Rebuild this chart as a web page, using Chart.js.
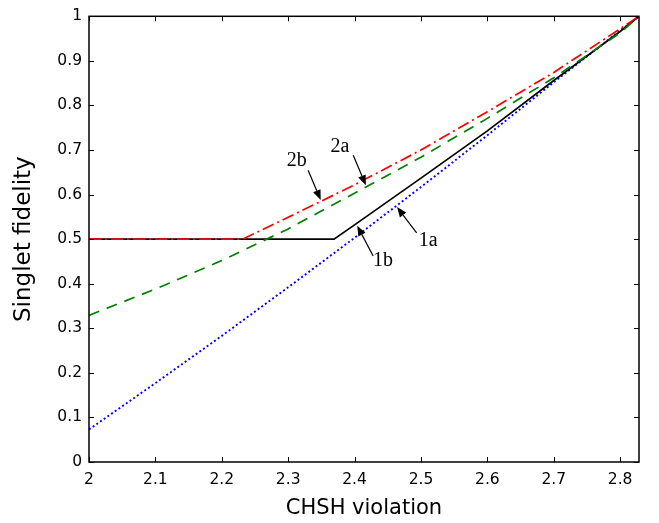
<!DOCTYPE html>
<html>
<head>
<meta charset="utf-8">
<script src="https://cdn.jsdelivr.net/npm/chart.js@4.4.1/dist/chart.umd.min.js"></script>
<style>
  html, body { margin: 0; padding: 0; background: #fff; }
  #wrap { width: 659px; height: 523px; }
</style>
</head>
<body>
<div id="wrap"><canvas id="fid" width="659" height="523"></canvas></div>
<script>
// axis ticks
const xTicks = [2, 2.1, 2.2, 2.3, 2.4, 2.5, 2.6, 2.7, 2.8];
const yTicks = [0, 0.1, 0.2, 0.3, 0.4, 0.5, 0.6, 0.7, 0.8, 0.9, 1];
const xMin = 2, xMax = 2.8284;

// curve 1a (blue dotted)
const x1a = [2, 2.1, 2.2, 2.3, 2.4, 2.5, 2.6, 2.7, 2.8, 2.8284];
const y1a = [0.073, 0.177, 0.283, 0.392, 0.503, 0.617, 0.733, 0.852, 0.968, 1];

// curve 1b (black solid)
const x1b = [2, 2.369, 2.4, 2.5, 2.6, 2.7, 2.8, 2.8284];
const y1b = [0.5, 0.5, 0.532, 0.637, 0.743, 0.856, 0.966, 1];

// curve 2a (green dashed)
const x2a = [2, 2.1, 2.2, 2.3, 2.4, 2.5, 2.6, 2.7, 2.8, 2.8284];
const y2a = [0.329, 0.388, 0.452, 0.523, 0.603, 0.684, 0.771, 0.862, 0.963, 1];

// curve 2b (red dash-dot)
const x2b = [2, 2.2315, 2.3, 2.4, 2.5, 2.6, 2.7, 2.8, 2.8284];
const y2b = [0.5, 0.5, 0.549, 0.622, 0.700, 0.786, 0.874, 0.972, 1];

// arrow labels
const noteLabels = ['2b', '2a', '1b', '1a'];
const noteTextX = [2.3128, 2.378, 2.443, 2.511];
const noteTextY = [0.677, 0.7065, 0.451, 0.496];
const noteFromX = [2.330, 2.398, 2.428, 2.4935];
const noteFromY = [0.6545, 0.688, 0.462, 0.514];
const noteTipX = [2.349, 2.417, 2.404, 2.464];
const noteTipY = [0.588, 0.621, 0.530, 0.572];

const pts = (xs, ys) => xs.map((x, i) => ({ x: x, y: ys[i] }));

const frameAndNotes = {
    id: 'frameAndNotes',
    afterDatasetsDraw(chart) {
        const ctx = chart.ctx;
        const xs = chart.scales.x, ys = chart.scales.y;
        const a = chart.chartArea;
        ctx.save();
        ctx.strokeStyle = '#000';
        ctx.lineWidth = 1;
        // inward ticks on all four sides
        const tl = 5;
        ctx.beginPath();
        xTicks.forEach(v => {
            const px = Math.round(xs.getPixelForValue(v)) + 0.5;
            ctx.moveTo(px, a.bottom); ctx.lineTo(px, a.bottom - tl);
            ctx.moveTo(px, a.top); ctx.lineTo(px, a.top + tl);
        });
        yTicks.forEach(v => {
            const py = Math.round(ys.getPixelForValue(v)) + 0.5;
            ctx.moveTo(a.left, py); ctx.lineTo(a.left + tl, py);
            ctx.moveTo(a.right, py); ctx.lineTo(a.right - tl, py);
        });
        ctx.stroke();
        ctx.lineWidth = 1.5;
        ctx.strokeRect(a.left, a.top, a.right - a.left, a.bottom - a.top);

        // labels with arrows
        ctx.font = '20px "Liberation Serif", serif';
        ctx.fillStyle = '#000';
        ctx.textAlign = 'center';
        ctx.textBaseline = 'middle';
        noteLabels.forEach((lab, i) => {
            ctx.fillText(lab, xs.getPixelForValue(noteTextX[i]), ys.getPixelForValue(noteTextY[i]));
            const x0 = xs.getPixelForValue(noteFromX[i]), y0 = ys.getPixelForValue(noteFromY[i]);
            const x1 = xs.getPixelForValue(noteTipX[i]), y1 = ys.getPixelForValue(noteTipY[i]);
            const ang = Math.atan2(y1 - y0, x1 - x0);
            const hl = 10, hw = 4;
            const bx = x1 - hl * Math.cos(ang), by = y1 - hl * Math.sin(ang);
            ctx.lineWidth = 1.2;
            ctx.beginPath();
            ctx.moveTo(x0, y0); ctx.lineTo(bx, by);
            ctx.stroke();
            ctx.beginPath();
            ctx.moveTo(x1, y1);
            ctx.lineTo(bx + hw * Math.sin(ang), by - hw * Math.cos(ang));
            ctx.lineTo(bx - hw * Math.sin(ang), by + hw * Math.cos(ang));
            ctx.closePath();
            ctx.fill();
        });
        ctx.restore();
    }
};

new Chart(document.getElementById('fid'), {
    type: 'scatter',
    data: {
        datasets: [
            { label: '2b', data: pts(x2b, y2b), borderColor: '#ff0000', borderDash: [12, 4, 2, 4] },
            { label: '2a', data: pts(x2a, y2a), borderColor: '#008000', borderDash: [11, 8] },
            { label: '1b', data: pts(x1b, y1b), borderColor: '#000000' },
            { label: '1a', data: pts(x1a, y1a), borderColor: '#0000ff', borderDash: [2, 2.5], borderWidth: 1.9 }
        ].map(d => Object.assign({
            showLine: true,
            pointRadius: 0,
            borderWidth: 1.7,
            fill: false,
            tension: 0
        }, d))
    },
    options: {
        responsive: false,
        animation: false,
        devicePixelRatio: 1,
        layout: { padding: { left: 0, right: 20, top: 11, bottom: 0 } },
        plugins: { legend: { display: false }, tooltip: { enabled: false } },
        scales: {
            x: {
                type: 'linear',
                min: xMin,
                max: xMax,
                afterBuildTicks: s => { s.ticks = xTicks.map(v => ({ value: v })); },
                afterFit: s => { s.height = 61; },
                grid: { display: false, drawTicks: false },
                border: { display: false },
                ticks: {
                    padding: 9,
                    color: '#000',
                    font: { family: '"DejaVu Sans"', size: 15.5 },
                    callback: v => String(v)
                },
                title: {
                    display: true,
                    text: 'CHSH violation',
                    color: '#000',
                    font: { family: '"DejaVu Sans"', size: 21 },
                    padding: { top: 0, bottom: 2 }
                }
            },
            y: {
                min: 0,
                max: 1,
                afterBuildTicks: s => { s.ticks = yTicks.map(v => ({ value: v })); },
                afterFit: s => { s.width = 89; },
                grid: { display: false, drawTicks: false },
                border: { display: false },
                ticks: {
                    padding: 7,
                    color: '#000',
                    font: { family: '"DejaVu Sans"', size: 15.5 },
                    callback: v => String(v)
                },
                title: {
                    display: true,
                    text: 'Singlet fidelity',
                    color: '#000',
                    font: { family: '"DejaVu Sans"', size: 23 },
                    padding: { top: 10, bottom: 0 }
                }
            }
        }
    },
    plugins: [frameAndNotes]
});
</script>
</body>
</html>
